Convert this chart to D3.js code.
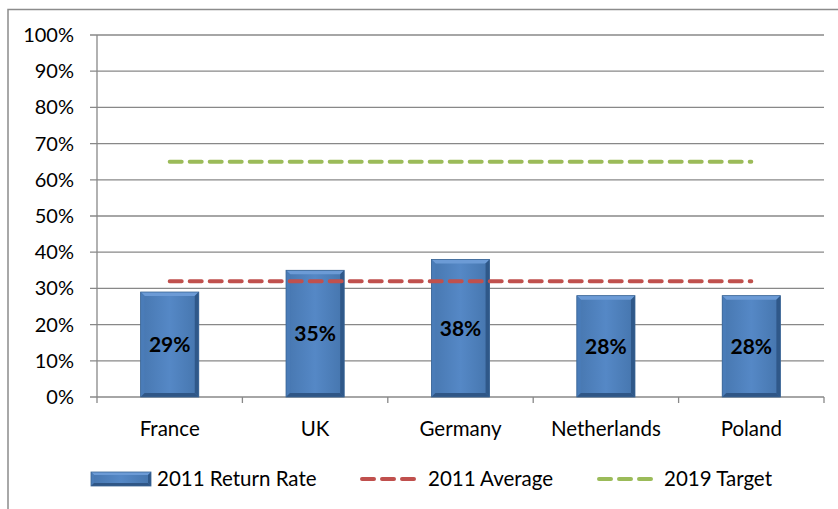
<!DOCTYPE html>
<meta charset="utf-8">
<style>
body { margin: 0; background: #fff; }
svg { font-family: Lato, "Open Sans", sans-serif; }
</style>
<svg width="838" height="509"></svg>
<script src="https://cdn.jsdelivr.net/npm/d3@7"></script>
<script>

var countries = ["France", "UK", "Germany", "Netherlands", "Poland"],
    returnRate = [0.29, 0.35, 0.38, 0.28, 0.28],
    average2011 = 0.32,
    target2019 = 0.65,
    yTicks = [0, 0.1, 0.2, 0.3, 0.4, 0.5, 0.6, 0.7, 0.8, 0.9, 1.0],
    legendLabels = ["2011 Return Rate", "2011 Average", "2019 Target"];

var svg = d3.select("svg");

var margin = {left: 97, right: 14, top: 35, bottom: 112},
    width = 838 - margin.left - margin.right,
    height = 509 - margin.top - margin.bottom;

// outer frame (only top and left visible)
svg.append("path")
    .attr("d", "M8,520V9.5H840")
    .attr("fill", "none")
    .attr("stroke", "#8c8c8c")
    .attr("stroke-width", 1.5);

var defs = svg.append("defs");
var grad = defs.append("linearGradient").attr("id", "barFace");
grad.append("stop").attr("offset", "0%").attr("stop-color", "#4777b0");
grad.append("stop").attr("offset", "50%").attr("stop-color", "#5588c6");
grad.append("stop").attr("offset", "100%").attr("stop-color", "#4575ad");

var g = svg.append("g").attr("transform", "translate(" + margin.left + "," + margin.top + ")");

var x = d3.scaleBand().domain(countries).range([0, width]).paddingInner(0.6).paddingOuter(0.3);
var y = d3.scaleLinear().domain([0, 1]).range([height, 0]);

// gridlines
g.append("g")
  .selectAll("line")
  .data(yTicks)
  .enter().append("line")
    .attr("x1", -7).attr("x2", width)
    .attr("y1", function(d) { return y(d); })
    .attr("y2", function(d) { return y(d); })
    .attr("stroke", "#888")
    .attr("stroke-width", 1.3);

// y labels
g.append("g")
  .selectAll("text")
  .data(yTicks)
  .enter().append("text")
    .attr("x", -23)
    .attr("y", function(d) { return y(d); })
    .attr("dy", "0.35em")
    .attr("text-anchor", "end")
    .attr("font-size", 20)
    .text(d3.format(".0%"));

// y axis line
g.append("line")
    .attr("x1", 0).attr("x2", 0).attr("y1", 0).attr("y2", height)
    .attr("stroke", "#888").attr("stroke-width", 1.3);

// x ticks between categories
var step = x.step();
g.append("g")
  .selectAll("line")
  .data(d3.range(countries.length + 1))
  .enter().append("line")
    .attr("x1", function(i) { return i * step; })
    .attr("x2", function(i) { return i * step; })
    .attr("y1", height).attr("y2", height + 6)
    .attr("stroke", "#888").attr("stroke-width", 1.3);

g.append("g")
  .selectAll("text")
  .data(countries)
  .enter().append("text")
    .attr("x", function(d) { return x(d) + x.bandwidth() / 2; })
    .attr("y", height + 32)
    .attr("dy", "0.35em")
    .attr("text-anchor", "middle")
    .attr("font-size", 20.5)
    .text(function(d) { return d; });

// bevelled bars
function bevelBar(sel, x0, y0, w, h, b) {
  var x1 = x0 + w, y1 = y0 + h;
  sel.append("rect").attr("x", x0).attr("y", y0).attr("width", w).attr("height", h)
      .attr("fill", "url(#barFace)");
  var faces = [
    {pts: [[x0, y0], [x1, y0], [x1 - b, y0 + b], [x0 + b, y0 + b]], c: "#6c9bd6"},
    {pts: [[x0, y0], [x0 + b, y0 + b], [x0 + b, y1 - b], [x0, y1]], c: "#4a7cb8"},
    {pts: [[x1, y0], [x1, y1], [x1 - b, y1 - b], [x1 - b, y0 + b]], c: "#2f5889"},
    {pts: [[x0, y1], [x0 + b, y1 - b], [x1 - b, y1 - b], [x1, y1]], c: "#2f5686"}
  ];
  sel.selectAll("polygon.f")
    .data(faces)
    .enter().append("polygon")
      .attr("points", function(f) { return f.pts.join(" "); })
      .attr("fill", function(f) { return f.c; });
  sel.append("rect").attr("x", x0).attr("y", y0).attr("width", w).attr("height", h)
      .attr("fill", "none").attr("stroke", "#3a6595").attr("stroke-width", 0.8);
}

var bars = g.append("g")
  .selectAll("g")
  .data(countries)
  .enter().append("g")
    .each(function(d, i) {
      bevelBar(d3.select(this), x(d), y(returnRate[i]), x.bandwidth(), height - y(returnRate[i]), 4);
    });

// lines
var lineX0 = x(countries[0]) + x.bandwidth() / 2,
    lineX1 = x(countries[countries.length - 1]) + x.bandwidth() / 2;

[[average2011, "#c0504d"], [target2019, "#9bbb59"]].forEach(function(p) {
  g.append("line")
      .attr("x1", lineX0).attr("x2", lineX1)
      .attr("y1", y(p[0])).attr("y2", y(p[0]))
      .attr("stroke", p[1])
      .attr("stroke-width", 4)
      .attr("stroke-linecap", "round")
      .attr("stroke-dasharray", "12,8");
});

// bar labels
g.append("g")
  .selectAll("text")
  .data(countries)
  .enter().append("text")
    .attr("x", function(d) { return x(d) + x.bandwidth() / 2; })
    .attr("y", function(d, i) { return (y(returnRate[i]) + height) / 2; })
    .attr("dy", "0.35em")
    .attr("text-anchor", "middle")
    .attr("font-size", 21)
    .attr("font-weight", "bold")
    .text(function(d, i) { return d3.format(".0%")(returnRate[i]); });

// legend
var legend = svg.append("g").attr("transform", "translate(0,479)");
var sw = legend.append("g");
bevelBar(sw, 91, -7, 60, 14, 3);
legend.append("text").attr("x", 157).attr("dy", "0.35em").attr("font-size", 20.5).text(legendLabels[0]);

[[360, "#c0504d", 428, legendLabels[1]], [597, "#9bbb59", 664, legendLabels[2]]].forEach(function(p) {
  legend.append("line")
      .attr("x1", p[0] + 2).attr("x2", p[0] + 54)
      .attr("stroke", p[1]).attr("stroke-width", 4)
      .attr("stroke-linecap", "round")
      .attr("stroke-dasharray", "12,8");
  legend.append("text").attr("x", p[2]).attr("dy", "0.35em").attr("font-size", 20.5).text(p[3]);
});

</script>
